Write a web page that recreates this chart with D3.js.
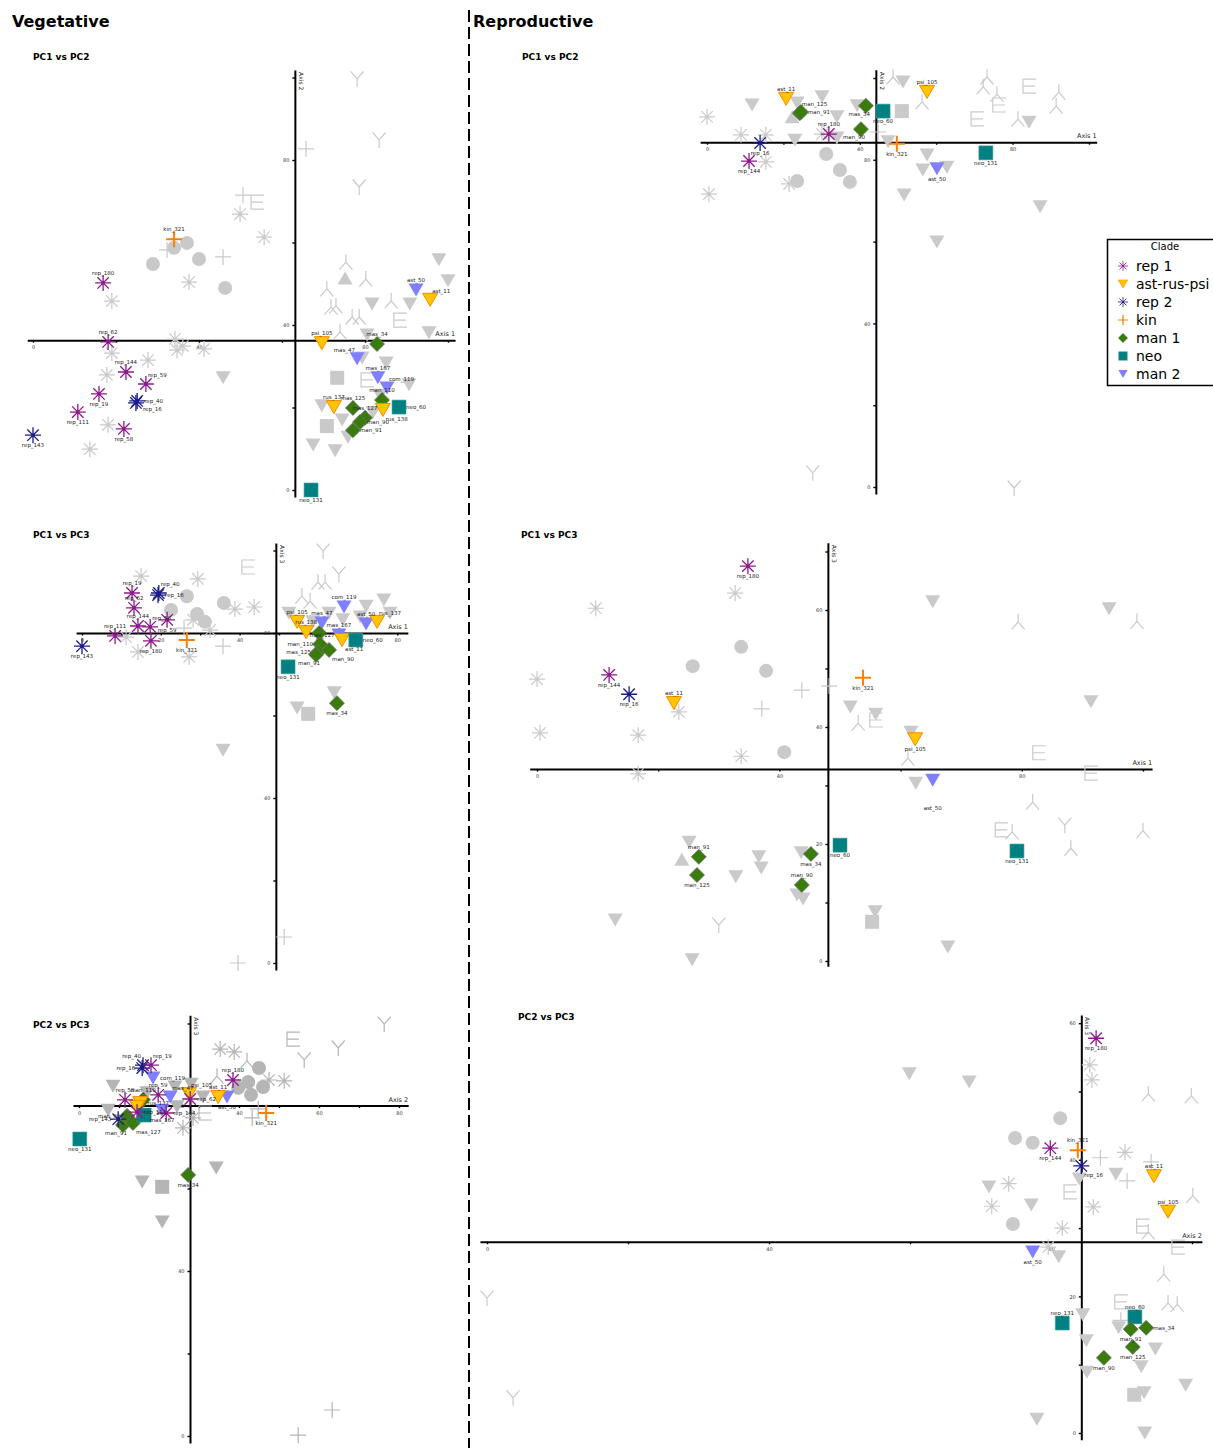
<!DOCTYPE html>
<html>
<head>
<meta charset="utf-8">
<script src="https://cdn.jsdelivr.net/npm/d3@7"></script>
<style>
  body { margin: 0; background: #fff; }
  svg { display: block; }
  text { font-family: "DejaVu Sans", Verdana, sans-serif; }
</style>
</head>
<body>
<svg id="chart" width="1213" height="1448"></svg>
<script>
// ---- Clades ----
const cladeKeys = ["rep1", "ast", "rep2", "kin", "man1", "neo", "man2"];
const cladeLabels = ["rep 1", "ast-rus-psi", "rep 2", "kin", "man 1", "neo", "man 2"];

// ---- Vegetative PC1 vs PC2 ----
const greyA = [
  ["plus",32.3,58.2],["circle",34.0,58.7],["circle",37.1,59.9],["circle",28.9,54.8],["circle",40.0,56.0],
  ["plus",45.8,56.5],["star",37.6,50.4],["circle",46.3,49.0],["star",19.0,45.8],["star",34.2,36.6],
  ["star",36.1,34.9],["star",34.7,33.9],["star",41.2,34.2],["star",19.0,33.2],["star",27.7,31.5],
  ["star",17.8,27.9],["tri_down",45.8,27.2],["star",18.1,15.8],["star",13.7,9.9],["plus",50.6,71.5],
  ["E",54.0,69.8],["star",49.9,66.9],["star",55.7,61.3],["plus",65.8,82.7],["Y",78.1,99.9],
  ["Y",83.4,85.1],["Y",78.6,73.7],["tri_down",97.8,55.8],["tri_down",100.0,50.7],["Yinv",75.4,55.0],
  ["tri_up",75.2,51.4],["Yinv",80.2,50.9],["Yinv",70.8,48.5],["tri_down",81.7,45.1],["Yinv",86.3,45.6],
  ["tri_down",90.8,45.1],["Yinv",73.0,44.4],["Yinv",71.8,44.1],["E",88.4,41.2],["Yinv",76.9,41.7],
  ["Yinv",78.6,41.7],["tri_down",95.4,38.1],["Yinv",74.0,38.1],["tri_down",80.5,37.6],["tri_down",85.1,30.8],
  ["square",73.3,27.2],["E",80.5,26.7],["tri_down",79.3,32.0],["tri_down",90.6,25.5],["tri_down",69.6,20.4],
  ["tri_down",83.6,23.0],["square",70.8,15.5],["tri_down",74.5,17.0],["tri_down",67.5,10.9],["tri_down",72.8,9.5],
  ["tri_down",81.9,18.7],["tri_down",75.9,12.8]
];
const cladeA = [
  ["kin_321","kin",34.0,60.8],["rep_180","rep1",16.9,50.2],["rep_62","rep1",18.1,35.9],
  ["rep_144","rep1",22.4,28.6],["rep_59","rep1",27.2,25.7],["rep_19","rep1",15.9,23.3],
  ["rep_40","rep2",25.1,21.6],["rep_16","rep2",24.8,21.1],["rep_111","rep1",10.8,18.9],
  ["rep_58","rep1",21.9,14.8],["rep_143","rep2",0.0,13.3],["mas_34","man1",82.9,35.4],
  ["ast_50","man2",92.3,48.5],["mas_47","man2",78.1,31.8],["mas_167","man2",83.1,27.2],
  ["com_119","man2",85.3,24.7],["man_110","man1",84.1,21.8],["mas_125","man1",77.1,19.9],
  ["mas_127","man1",80.0,17.5],["man_90","man1",78.8,16.5],["man_91","man1",77.1,14.5],
  ["psi_105","ast",69.6,35.6],["ast_11","ast",95.7,46.1],["rus_138","ast",84.3,19.4],
  ["rus_137","ast",72.5,20.1],["neo_60","neo",88.2,20.1],["neo_131","neo",67.0,0.0]
];

// ---- Vegetative PC1 vs PC3 ----
const greyB = [
  ["star",15.0,93.8],["star",29.4,93.1],["circle",26.6,88.9],["circle",36.0,87.3],["star",38.8,85.8],
  ["circle",22.6,85.6],["circle",29.2,84.6],["circle",31.2,82.7],["star",28.2,83.2],["plus",25.9,81.2],
  ["star",32.5,80.7],["star",11.2,79.0],["star",14.2,75.4],["star",27.2,74.2],["plus",35.8,76.8],
  ["tri_down",35.8,51.6],["plus",39.6,0.0],["E",42.1,96.0],["star",43.7,86.3],["Y",61.2,100.1],
  ["Y",65.2,94.5],["Yinv",59.9,92.1],["Yinv",61.7,92.1],["Yinv",55.8,88.7],["Yinv",57.9,87.5],
  ["tri_down",76.6,88.0],["tri_down",72.1,86.5],["tri_down",52.5,84.8],["tri_down",62.7,84.8],
  ["tri_down",78.2,84.8],["tri_down",66.2,83.2],["tri_down",70.6,83.9],["tri_down",58.6,82.7],
  ["tri_down",64.0,65.5],["tri_down",54.6,61.8],["square",57.4,60.4],["plus",51.3,6.3]
];
const cladeB = [
  ["rep_19","rep1",12.7,89.7],["rep_62","rep1",13.2,86.1],["rep_144","rep1",14.2,81.7],
  ["rep_58","rep1",17.3,81.5],["rep_59","rep1",21.6,83.2],["rep_111","rep1",8.4,79.3],
  ["rep_180","rep1",17.5,78.1],["rep_40","rep2",19.5,89.7],["rep_16","rep2",19.3,89.2],
  ["rep_143","rep2",0.0,76.8],["kin_321","kin",26.6,78.3],["mas_47","man2",60.9,82.4],
  ["com_119","man2",66.5,86.3],["ast_50","man2",72.1,82.2],["mas_167","man2",65.2,79.5],
  ["psi_105","ast",54.6,82.7],["rus_138","ast",56.9,80.2],["rus_137","ast",74.9,82.7],
  ["ast_11","ast",66.0,78.3],["neo_60","neo",69.5,78.3],["neo_131","neo",52.3,71.8],
  ["mas_127","man1",60.2,80.0],["man_110","man1",60.4,77.3],["mas_125","man1",59.9,75.4],
  ["man_91","man1",59.4,74.7],["man_90","man1",62.7,75.9],["mas_34","man1",64.7,63.0]
];

// ---- Vegetative PC2 vs PC3 ----
const greyC = [
  ["star",35.3,93.8],["star",38.8,93.1],["Yinv",42.0,90.7],["E",53.5,96.2],["Y",56.3,91.4],
  ["Y",64.8,94.3],["Y",76.3,100.1],["circle",45.0,89.2],["circle",42.3,85.8],["circle",46.0,84.6],
  ["circle",43.0,82.7],["circle",39.8,84.4],["star",47.5,86.3],["star",51.3,86.1],["Yinv",34.5,87.0],
  ["star",26.0,74.7],["E",31.5,78.3],["plus",43.3,77.1],["plus",44.8,79.3],["tri_down",34.3,65.0],
  ["tri_down",15.8,61.6],["square",20.8,60.4],["tri_down",20.8,51.9],["plus",63.3,6.3],["plus",54.8,0.2],
  ["tri_down",8.5,84.8],["tri_down",24.0,84.6],["tri_down",28.0,85.3],["tri_down",7.3,79.0],
  ["tri_down",17.0,83.2],["tri_down",31.0,82.2],["tri_down",24.5,79.8],["star",28.5,77.1]
];
const cladeC = [
  ["com_119","man2",18.5,86.8],["mas_47","man2",22.8,82.2],["mas_167","man2",20.8,79.0],
  ["ast_50","man2",37.0,82.2],["man_110","man1",16.0,81.5],["man_91","man1",11.0,75.4],
  ["man_90","man1",12.0,77.6],["mas_127","man1",13.5,75.9],["mas_34","man1",27.3,63.3],
  ["rus_137","ast",15.3,80.7],["rus_138","ast",14.5,79.8],["psi_105","ast",27.5,82.9],
  ["ast_11","ast",34.8,82.2],["neo_60","neo",16.3,77.8],["neo_131","neo",0.2,72.0],
  ["rep_40","rep2",16.0,89.9],["rep_16","rep2",15.8,89.2],["rep_143","rep2",9.8,76.8],
  ["rep_58","rep1",11.5,81.5],["rep_59","rep1",19.8,82.7],["rep_62","rep1",27.8,81.7],
  ["rep_111","rep1",14.5,78.5],["rep_144","rep1",21.8,78.3],["rep_180","rep1",38.5,86.3],
  ["rep_19","rep1",18.0,89.9],["kin_321","kin",46.8,78.3]
];

// ---- Reproductive PC1 vs PC2 ----
const greyD = [
  ["star",0.0,90.5],["tri_down",11.8,93.4],["star",8.9,86.1],["star",15.4,86.1],["tri_down",23.6,93.9],
  ["tri_down",30.1,95.4],["tri_up",22.3,90.5],["tri_down",23.0,84.8],["tri_down",34.0,90.5],["tri_down",34.0,85.3],
  ["star",30.1,86.3],["star",15.4,79.5],["circle",31.2,81.4],["circle",34.8,77.5],["circle",37.4,74.6],
  ["circle",23.6,74.8],["star",21.5,74.1],["star",0.5,71.6],["Y",27.7,3.7],["Yinv",48.7,100.0],
  ["tri_down",51.3,99.0],["tri_down",39.3,93.2],["square",51.0,91.9],["Yinv",56.3,93.9],["plus",44.8,86.8],
  ["tri_down",47.4,84.4],["tri_down",57.6,81.2],["tri_down",56.5,77.5],["tri_down",62.8,78.2],["tri_down",51.6,71.4],
  ["tri_down",87.2,68.5],["tri_down",60.2,59.9],["Yinv",73.3,100.0],["Yinv",72.3,97.6],["Yinv",75.9,95.8],
  ["E",84.3,98.0],["E",76.4,93.4],["E",70.7,90.0],["Yinv",81.4,89.7],["tri_down",84.3,89.2],
  ["Yinv",92.1,96.3],["Yinv",91.4,92.9],["Y",80.4,0.0]
];
const cladeD = [
  ["ast_11","ast",20.7,94.9],["man_125","man1",24.3,91.4],["man_91","man1",24.6,91.7],
  ["rep_180","rep1",31.9,86.3],["rep_16","rep2",13.9,84.1],["rep_144","rep1",11.0,79.7],
  ["mas_34","man1",41.6,93.2],["man_90","man1",40.3,87.5],["neo_60","neo",46.1,91.9],
  ["psi_105","ast",57.6,96.6],["kin_321","kin",49.7,83.9],["ast_50","man2",60.2,77.8],
  ["neo_131","neo",73.0,81.7]
];

// ---- Reproductive PC1 vs PC3 ----
const greyE = [
  ["star",32.7,62.9],["star",9.7,60.3],["star",0.0,48.2],["star",0.5,39.0],["star",16.7,38.6],
  ["star",23.4,42.6],["star",33.7,35.0],["star",16.7,32.0],["circle",33.7,53.7],["circle",25.7,50.4],
  ["circle",37.8,49.6],["circle",40.8,35.7],["plus",43.7,46.3],["plus",48.2,47.0],["plus",37.1,43.1],
  ["tri_down",25.1,20.3],["tri_up",23.9,17.4],["tri_down",36.6,17.8],["tri_down",37.0,15.9],["tri_down",32.8,14.4],
  ["tri_down",43.6,18.5],["tri_down",42.9,11.3],["tri_down",43.9,10.6],["tri_down",12.9,7.0],["Y",30.0,6.3],
  ["tri_down",25.6,0.2],["tri_down",65.3,61.4],["tri_down",94.4,60.2],["Yinv",79.4,57.8],["Yinv",99.0,57.9],
  ["tri_down",51.7,43.4],["tri_down",55.9,42.2],["E",55.9,41.2],["Yinv",53.0,40.5],["tri_down",61.7,39.1],
  ["Yinv",61.2,34.5],["tri_down",91.4,44.3],["E",82.8,35.6],["E",91.4,32.1],["tri_down",62.5,30.4],
  ["Yinv",81.8,27.0],["Y",87.1,23.4],["E",76.6,22.4],["Yinv",78.4,21.9],["Yinv",88.1,19.1],
  ["Yinv",100.0,22.1],["tri_down",55.8,8.4],["square",55.3,6.7],["tri_down",67.8,2.4]
];
const cladeE = [
  ["rep_180","rep1",34.8,67.5],["rep_144","rep1",11.9,48.9],["rep_16","rep2",15.2,45.6],
  ["ast_11","ast",22.6,44.1],["man_91","man1",26.7,17.8],["man_125","man1",26.4,14.7],
  ["mas_34","man1",45.2,18.3],["man_90","man1",43.7,13.0],["neo_60","neo",50.0,19.8],
  ["kin_321","kin",53.8,48.4],["psi_105","ast",62.4,37.9],["ast_50","man2",65.3,30.9],
  ["neo_131","neo",79.2,18.8]
];

// ---- Reproductive PC2 vs PC3 ----
const greyF = [
  ["tri_down",59.9,52.6],["tri_down",68.4,51.4],["star",85.5,53.9],["star",85.8,51.7],["Yinv",93.8,49.5],
  ["Yinv",99.9,49.2],["circle",81.3,46.1],["circle",74.9,43.2],["circle",77.4,42.5],["plus",87.0,40.3],
  ["star",90.5,41.1],["plus",94.2,39.7],["tri_down",89.2,37.9],["plus",90.8,36.9],["tri_down",84.0,37.2],
  ["tri_down",71.2,36.0],["star",74.0,36.5],["E",82.7,35.3],["star",71.6,33.2],["tri_down",77.2,33.4],
  ["star",86.0,33.1],["Yinv",100.1,34.6],["circle",74.6,30.6],["star",81.6,30.0],["E",93.0,30.3],
  ["Yinv",93.8,29.3],["E",98.0,27.2],["star",79.6,27.2],["tri_down",81.1,25.8],["Yinv",96.0,23.1],
  ["E",89.9,19.2],["Yinv",96.6,18.9],["Yinv",97.9,18.7],["tri_down",84.5,17.3],["plus",89.9,16.5],
  ["tri_down",89.6,15.4],["tri_down",85.0,13.5],["tri_down",94.8,12.3],["tri_down",92.8,9.7],["tri_down",85.1,8.9],
  ["tri_down",99.1,7.0],["square",91.8,5.6],["tri_down",93.2,5.9],["tri_down",78.0,2.0],["tri_down",93.3,0.0],
  ["Y",0.0,19.9],["Y",3.7,5.3]
];
const cladeF = [
  ["rep_180","rep1",86.4,57.8],["rep_144","rep1",79.9,41.7],["kin_321","kin",83.8,41.4],
  ["rep_16","rep2",84.3,39.1],["ast_11","ast",94.6,37.6],["psi_105","ast",96.6,32.4],
  ["ast_50","man2",77.4,26.5],["neo_60","neo",91.9,17.0],["neo_131","neo",81.6,16.1],
  ["mas_34","man1",93.5,15.4],["man_91","man1",91.3,15.2],["man_125","man1",91.6,12.6],
  ["man_90","man1",87.5,11.0]
];

// ---- Label placement around each labelled marker (default: above) ----
const labelSpots = {
  t: [0, -8, "middle"], b: [0, 12, "middle"], r: [7, 2, "start"], l: [-7, 2, "end"],
  tr: [2, -7, "start"], tl: [-2, -7, "end"], br: [3, 11, "start"], bl: [4, 10, "end"],
  rb: [7, 8, "start"], bb: [0, 30, "middle"], c: [3, 4, "middle"]
};
const labA = {rep_59:"tr", rep_19:"b", rep_40:"r", rep_16:"rb", rep_111:"b", rep_58:"b", rep_143:"b",
  rus_138:"br", neo_60:"r", man_90:"r", man_91:"r", neo_131:"b", com_119:"tr", ast_11:"tr", mas_47:"tl"};
const labB = {rep_40:"tr", rep_16:"r", rep_58:"tr", rep_59:"b", rep_180:"b", rep_143:"b", kin_321:"b",
  rus_137:"tr", ast_11:"br", neo_60:"r", mas_127:"c", man_110:"l", mas_125:"l", man_91:"bl",
  man_90:"br", neo_131:"b", mas_34:"b"};
const labC = {rep_40:"tl", rep_19:"tr", rep_16:"l", com_119:"r", mas_47:"tr", psi_105:"tr", rep_62:"r",
  rus_137:"r", rus_138:"none", rep_111:"r", neo_60:"none", man_91:"bl", man_90:"l", mas_127:"br",
  rep_143:"l", mas_167:"b", rep_144:"r", ast_50:"b", kin_321:"b", neo_131:"b", mas_34:"b"};
const labD = {man_125:"tr", man_91:"r", rep_16:"b", rep_144:"b", mas_34:"bl", man_90:"bl", neo_60:"b",
  kin_321:"b", ast_50:"b", neo_131:"b"};
const labE = {rep_180:"b", rep_144:"b", rep_16:"b", man_125:"b", mas_34:"b", neo_60:"b", kin_321:"b",
  psi_105:"b", ast_50:"bb", neo_131:"b"};
const labF = {rep_180:"b", rep_144:"b", rep_16:"br", ast_50:"b", mas_34:"r", man_91:"b", man_125:"b", man_90:"b"};

// ---- Marker styles ----
const cladeStyle = {
  rep1: {shape: "star", stroke: "#8c1a8c", w: 1.3, dot: true},
  ast:  {shape: "tri_down", fill: "#ffc500", stroke: "#ff8800", w: 1},
  rep2: {shape: "star", stroke: "#1a1a8a", w: 1.3, dot: true},
  kin:  {shape: "plus", stroke: "#ff7f00", w: 2},
  man1: {shape: "diamond", fill: "#3a7c0c", stroke: "#707070", w: 0.8},
  neo:  {shape: "square", fill: "#008080", stroke: "#4c9f9f", w: 0.6},
  man2: {shape: "tri_down", fill: "#8080ff", stroke: "none", w: 0}
};

function symbol(g, shape, cx, cy, st, k) {
  const t = g.append("g").attr("transform", `translate(${cx},${cy}) scale(${k || 1})`);
  const line = d => t.append("path").attr("d", d).attr("fill", "none")
    .attr("stroke", st.stroke).attr("stroke-width", st.w || 1.2).attr("stroke-linecap", "butt");
  const shapeFill = d => t.append("path").attr("d", d).attr("fill", st.fill)
    .attr("stroke", st.stroke || "none").attr("stroke-width", st.w || 0);
  switch (shape) {
    case "circle": t.append("circle").attr("r", 7).attr("fill", st.fill); break;
    case "square": shapeFill("M-7,-7H7V7H-7Z"); break;
    case "tri_down": shapeFill("M-7.5,-6.5L7.5,-6.5L0,6.5Z"); break;
    case "tri_up": shapeFill("M-7.5,6.5L7.5,6.5L0,-6.5Z"); break;
    case "diamond": shapeFill("M0,-7.5L7.5,0L0,7.5L-7.5,0Z"); break;
    case "star":
      line("M-8,0H8M0,-8V8M-5.7,-5.7L5.7,5.7M-5.7,5.7L5.7,-5.7");
      if (st.dot) t.append("circle").attr("r", 1.4).attr("fill", st.stroke);
      break;
    case "plus": line("M-8,0H8M0,-8V8"); break;
    case "E": line("M-6,-7.5V7.5M-6.6,-7H7M-6,0H6M-6.6,7H7"); break;
    case "Y": line("M0,1L-6.5,-6.5M0,1L6.5,-6.5M0,1V9"); break;
    case "Yinv": line("M0,-1L-6.5,6.5M0,-1L6.5,6.5M0,-1V-9"); break;
  }
}

// ---- Panel layout ----
const panels = [
  {title: "PC1 vs PC2", tx: 33, ty: 60, x0: 33, kx: 4.15, y0: 490, ky: 4.125, xAt: 36.3, yAt: 63.1,
   xExt: [-1.4, 101.7], yExt: [-1.7, 101.8], xStep: 20, xMax: 100, xLab: 40, yStep: 20, yMax: 100, yLab: 40,
   xName: "Axis 1", yName: "Axis 2", grey: greyA, pts: cladeA, lab: labA, gc: "#c9c9c9"},
  {title: "PC1 vs PC3", tx: 33, ty: 538, x0: 82, kx: 3.94, y0: 963, ky: 4.125, xAt: 80, yAt: 49.2,
   xExt: [-1.5, 82.7], yExt: [-1.7, 101.8], xStep: 10, xMax: 80, xLab: 20, yStep: 20, yMax: 100, yLab: 40,
   xName: "Axis 1", yName: "Axis 3", grey: greyB, pts: cladeB, lab: labB, gc: "#c9c9c9"},
  {title: "PC2 vs PC3", tx: 33, ty: 1028, x0: 79, kx: 4.0, y0: 1436, ky: 4.125, xAt: 80.1, yAt: 27.75,
   xExt: [-1.5, 82.3], yExt: [-1.7, 102], xStep: 10, xMax: 80, xLab: 20, yStep: 20, yMax: 100, yLab: 40,
   xName: "Axis 2", yName: "Axis 3", grey: greyC, pts: cladeC, lab: labC, gc: "#b5b5b5"},
  {title: "PC1 vs PC2", tx: 522, ty: 60, x0: 707, kx: 3.82, y0: 487, ky: 4.09, xAt: 84.3, yAt: 44.2,
   xExt: [-1.8, 102], yExt: [-1.7, 102], xStep: 20, xMax: 100, xLab: 40, yStep: 20, yMax: 100, yLab: 40,
   xName: "Axis 1", yName: "Axis 2", grey: greyD, pts: cladeD, lab: labD, gc: "#cacaca"},
  {title: "PC1 vs PC3", tx: 521, ty: 538, x0: 537, kx: 6.06, y0: 961, ky: 5.85, xAt: 32.8, yAt: 48,
   xExt: [-1.2, 101.5], yExt: [-0.9, 71.5], xStep: 20, xMax: 100, xLab: 40, yStep: 10, yMax: 70, yLab: 20,
   xName: "Axis 1", yName: "Axis 3", grey: greyE, pts: cladeE, lab: labE, gc: "#cacaca"},
  {title: "PC2 vs PC3", tx: 518, ty: 1020, x0: 487, kx: 7.05, y0: 1433, ky: 6.83, xAt: 28, yAt: 84.3,
   xExt: [-1, 101.4], yExt: [-1, 61.2], xStep: 20, xMax: 100, xLab: 40, yStep: 10, yMax: 60, yLab: 20,
   xName: "Axis 2", yName: "Axis 3", grey: greyF, pts: cladeF, lab: labF, gc: "#cacaca"}
];

const svg = d3.select("#chart");

// Section headings and divider
svg.append("text").attr("x", 12).attr("y", 27).attr("font-size", 16).attr("font-weight", "bold").text("Vegetative");
svg.append("text").attr("x", 473).attr("y", 27).attr("font-size", 16).attr("font-weight", "bold").text("Reproductive");
svg.append("line").attr("x1", 469).attr("x2", 469).attr("y1", 10).attr("y2", 1448)
  .attr("stroke", "#000").attr("stroke-width", 2).attr("stroke-dasharray", "12,5");

panels.forEach(p => {
  const g = svg.append("g");
  const xs = d3.scaleLinear().domain(p.xExt).range(p.xExt.map(v => p.x0 + v * p.kx));
  const ys = d3.scaleLinear().domain(p.yExt).range(p.yExt.map(v => p.y0 - v * p.ky));

  g.append("text").attr("x", p.tx).attr("y", p.ty).attr("font-size", 9).attr("font-weight", "bold").text(p.title);

  // Axes crossing inside the plot
  const xAxis = d3.axisBottom(xs).tickValues(d3.range(0, p.xMax + 0.01, p.xStep))
    .tickSize(2.5).tickSizeOuter(0).tickPadding(3).tickFormat(v => v % p.xLab === 0 ? v : "");
  const yAxis = d3.axisLeft(ys).tickValues(d3.range(0, p.yMax + 0.01, p.yStep))
    .tickSize(2.5).tickSizeOuter(0).tickPadding(3).tickFormat(v => v % p.yLab === 0 ? v : "");
  const gx = g.append("g").attr("transform", `translate(0,${ys(p.xAt)})`).call(xAxis);
  const gy = g.append("g").attr("transform", `translate(${xs(p.yAt)},0)`).call(yAxis);
  [gx, gy].forEach(a => {
    a.select(".domain").attr("stroke", "#000").attr("stroke-width", 2);
    a.selectAll(".tick line").attr("stroke", "#000").attr("stroke-width", 1.4);
    a.selectAll(".tick text").attr("font-size", 5).attr("fill", "#333")
      .attr("font-family", "DejaVu Sans, sans-serif");
  });
  g.append("text").attr("x", xs(p.xExt[1])).attr("y", ys(p.xAt) - 4).attr("text-anchor", "end")
    .attr("font-size", 6.5).attr("fill", "#222").text(p.xName);
  g.append("text").attr("transform", `translate(${xs(p.yAt) + 4},${ys(p.yExt[1]) + 2}) rotate(90)`)
    .attr("font-size", 6).attr("fill", "#222").text(p.yName);

  // Background (unlabelled) specimens
  p.grey.forEach(([shape, x, y]) => {
    const lineShape = ["star", "plus", "E", "Y", "Yinv"].includes(shape);
    symbol(g, shape, xs(x), ys(y), lineShape ? {stroke: p.gc, w: 1.2} : {fill: p.gc});
  });

  // Labelled specimens by clade
  p.pts.forEach(([name, clade, x, y]) => {
    const st = cladeStyle[clade];
    symbol(g, st.shape, xs(x), ys(y), st);
  });
  p.pts.forEach(([name, clade, x, y]) => {
    const spot = p.lab[name] || "t";
    if (spot === "none") return;
    const [dx, dy, anchor] = labelSpots[spot];
    g.append("text").attr("x", xs(x) + dx).attr("y", ys(y) + dy).attr("text-anchor", anchor)
      .attr("font-size", 5.5).attr("fill", "#222").text(name);
  });
});

// Legend
const lg = svg.append("g");
lg.append("rect").attr("x", 1107.5).attr("y", 239.5).attr("width", 130).attr("height", 146)
  .attr("fill", "#fff").attr("stroke", "#000").attr("stroke-width", 1.5);
lg.append("text").attr("x", 1165).attr("y", 250).attr("text-anchor", "middle").attr("font-size", 10).text("Clade");
cladeKeys.forEach((c, i) => {
  const cy = 266 + i * 18;
  symbol(lg, cladeStyle[c].shape, 1123, cy, cladeStyle[c], 0.62);
  lg.append("text").attr("x", 1136).attr("y", cy + 5).attr("font-size", 14).text(cladeLabels[i]);
});
</script>
</body>
</html>
